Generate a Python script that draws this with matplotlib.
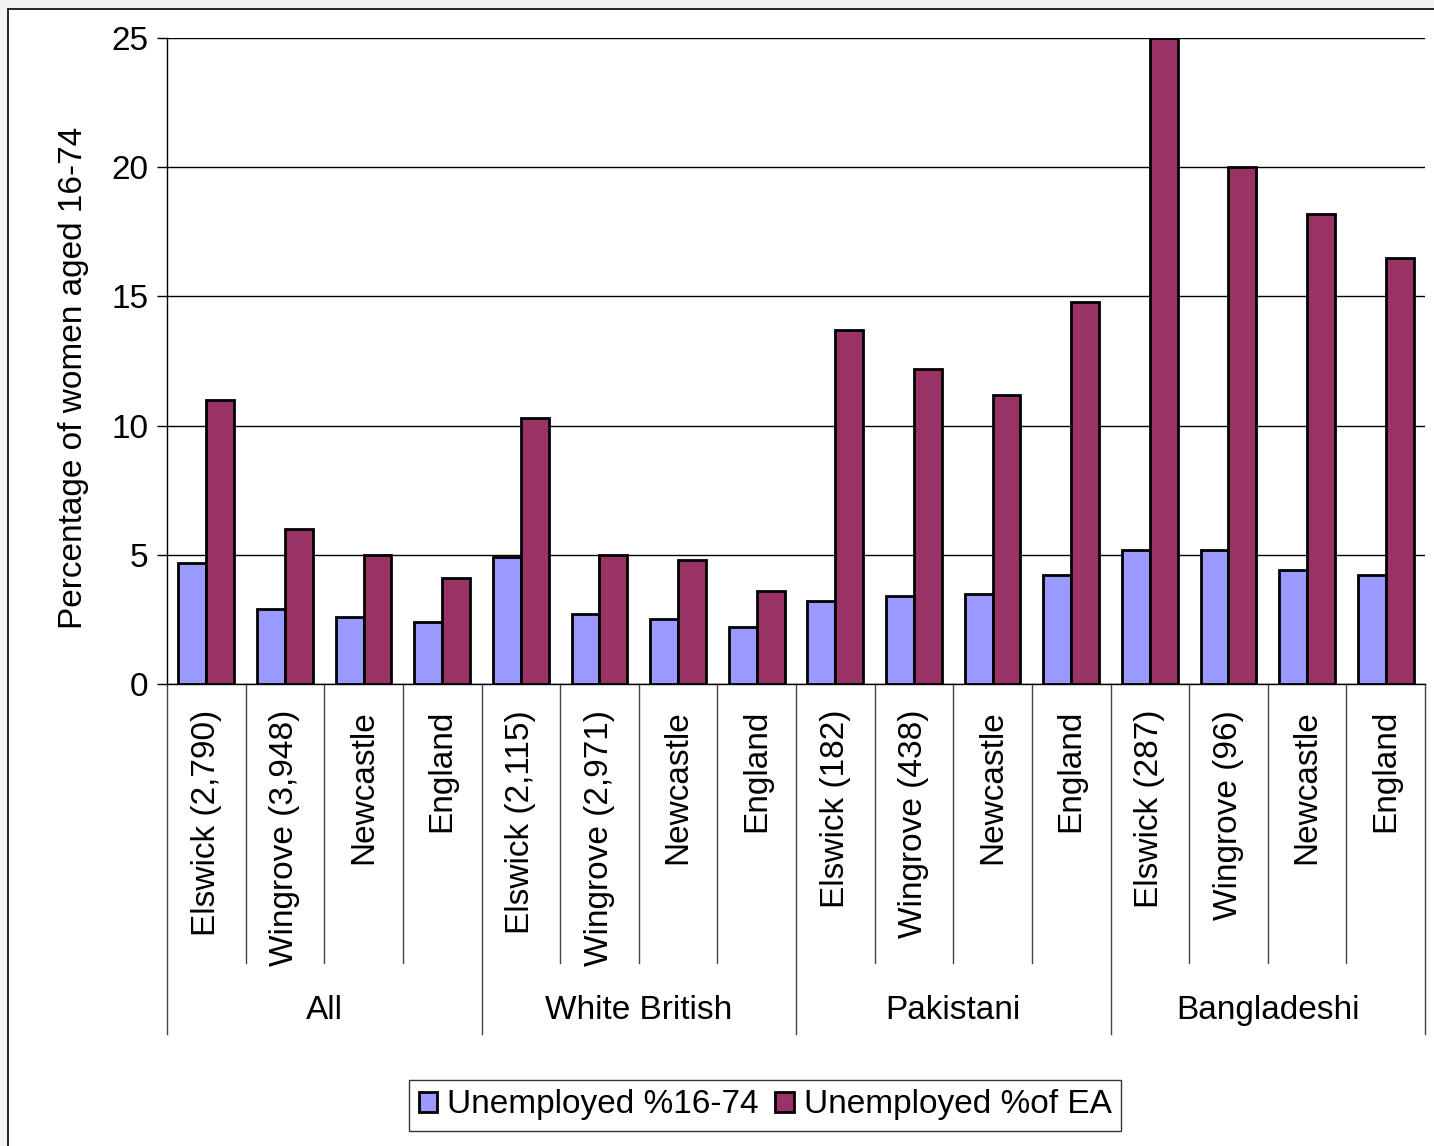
# Unemployment of women aged 16-74 by area and ethnic group
import numpy as np
import matplotlib.pyplot as plt
from matplotlib.patches import Rectangle

plt.rcParams['font.family'] = ['Liberation Sans', 'DejaVu Sans']

# Data
groups = ["All", "White British", "Pakistani", "Bangladeshi"]
areas = [
    "Elswick (2,790)", "Wingrove (3,948)", "Newcastle", "England",
    "Elswick (2,115)", "Wingrove (2,971)", "Newcastle", "England",
    "Elswick (182)", "Wingrove (438)", "Newcastle", "England",
    "Elswick (287)", "Wingrove (96)", "Newcastle", "England",
]
unemp_16_74 = [4.7, 2.9, 2.6, 2.4,
               4.9, 2.7, 2.5, 2.2,
               3.2, 3.4, 3.5, 4.2,
               5.2, 5.2, 4.4, 4.2]
unemp_ea = [11.0, 6.0, 5.0, 4.1,
            10.3, 5.0, 4.8, 3.6,
            13.7, 12.2, 11.2, 14.8,
            25.0, 20.0, 18.2, 16.5]

blue = '#9999FF'
plum = '#993366'

fig = plt.figure(figsize=(14.34, 11.46), dpi=100, facecolor='#f2f2f2')
# white chart area with thin border on top/left
fig.patches.append(Rectangle((8 / 1434, -0.05), 1.2, 1.05 - 9 / 1146,
                             transform=fig.transFigure, facecolor='white',
                             edgecolor='black', linewidth=1.2, zorder=-5))

ax = fig.add_axes([167 / 1434, 1 - 684 / 1146, 1258 / 1434, 646 / 1146])
ax.set_facecolor('white')

x = np.arange(len(areas))
w = 0.355
ax.bar(x - w / 2, unemp_16_74, w, color=blue, edgecolor='black', linewidth=2,
       label='Unemployed %16-74', zorder=3)
ax.bar(x + w / 2, unemp_ea, w, color=plum, edgecolor='black', linewidth=2,
       label='Unemployed %of EA', zorder=3)

ax.set_xlim(-0.5, len(areas) - 0.5)
ax.set_ylim(0, 25)
ax.set_yticks([0, 5, 10, 15, 20, 25])
ax.yaxis.grid(True, color='black', linewidth=1)
ax.set_axisbelow(True)
ax.tick_params(axis='y', labelsize=24, length=7.2, width=1, direction='out', pad=6)
ax.set_xticks([])
for s in ['top', 'right']:
    ax.spines[s].set_visible(False)
ax.spines['left'].set_linewidth(1)
ax.spines['bottom'].set_linewidth(1)
ax.set_ylabel('Percentage of women aged 16-74', fontsize=24)
ax.yaxis.set_label_coords(-0.062, 0.474)

# category labels and separators below the axis
tr = ax.get_xaxis_transform()
for i, a in enumerate(areas):
    ax.text(i, -0.040, a, rotation=90, ha='center', va='top', fontsize=24,
            transform=tr, clip_on=False)
for i in range(len(areas) + 1):
    bottom = -0.542 if i % 4 == 0 else -0.432
    ax.plot([i - 0.5, i - 0.5], [0, bottom], color='#444444', linewidth=1,
            transform=tr, clip_on=False)
for g, name in enumerate(groups):
    ax.text(g * 4 + 1.5, -0.505, name, ha='center', va='center', fontsize=24,
            transform=tr, clip_on=False)

leg = fig.legend(loc='center', bbox_to_anchor=(765 / 1434, 1 - 1105 / 1146),
                 ncol=2, fontsize=24, frameon=True, fancybox=False,
                 handlelength=0.55, handleheight=0.55, handletextpad=0.3,
                 columnspacing=0.5, borderpad=0.3)
leg.get_frame().set_edgecolor('black')
leg.get_frame().set_linewidth(1)

fig.savefig('out.png', dpi=100, facecolor=fig.get_facecolor())
